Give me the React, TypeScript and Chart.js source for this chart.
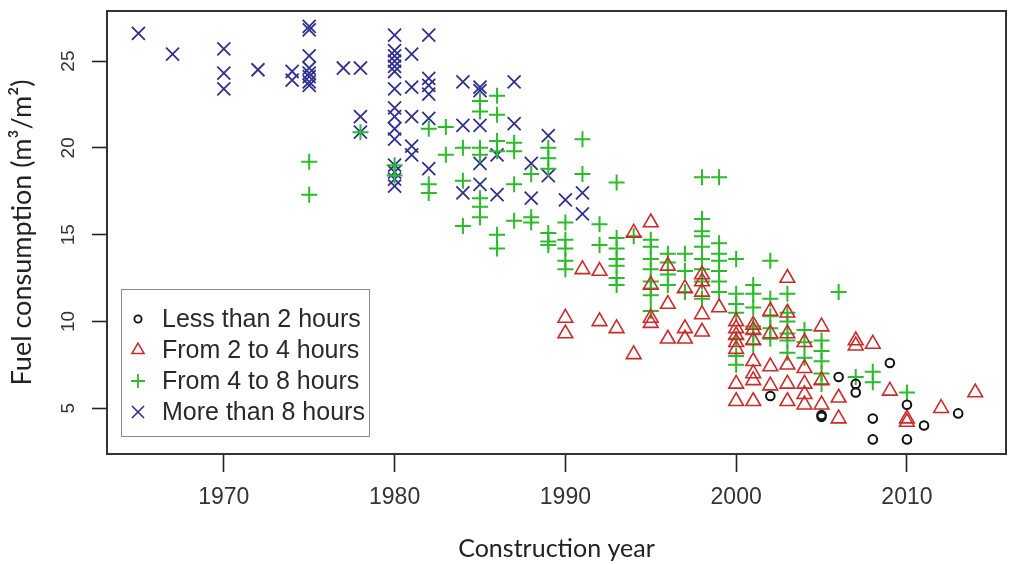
import React, { useEffect, useRef } from 'react';
import { Chart, registerables } from 'chart.js';

Chart.register(...registerables);

// Axis tick values
const xTickValues = [1970, 1980, 1990, 2000, 2010];
const yTickValues = [5, 10, 15, 20, 25];

// Fuel consumption (m³/m²) grouped by construction year, one list per heating-time class
type YearGroup = [number, number[]];

const lessThan2h: YearGroup[] = [
  [2002, [5.7]],
  [2005, [4.6, 4.5]],
  [2006, [6.8]],
  [2007, [6.4, 5.9]],
  [2008, [4.4, 3.2]],
  [2009, [7.6]],
  [2010, [5.2, 3.2]],
  [2011, [4.0]],
  [2013, [4.7]],
];

const from2to4h: YearGroup[] = [
  [1990, [10.2, 9.3]],
  [1991, [13.0]],
  [1992, [12.9, 10.0]],
  [1993, [9.6]],
  [1994, [15.1, 8.1]],
  [1995, [15.7, 12.1, 10.2, 9.9]],
  [1996, [13.2, 11.0, 9.0]],
  [1997, [11.9, 9.6, 9.0]],
  [1998, [12.7, 12.3, 11.7, 10.4, 9.4]],
  [1999, [10.8]],
  [2000, [10.0, 9.6, 9.2, 8.8, 8.4, 6.4, 5.4]],
  [2001, [9.8, 9.5, 8.9, 7.7, 7.0, 6.6, 5.4]],
  [2002, [10.6, 9.3, 7.4, 6.3]],
  [2003, [12.5, 10.5, 9.3, 7.5, 6.4, 5.4]],
  [2004, [8.8, 7.3, 6.4, 5.8, 5.2]],
  [2005, [9.7, 6.6, 5.2]],
  [2006, [5.6, 4.4]],
  [2007, [8.9, 8.6]],
  [2008, [8.7]],
  [2009, [6.0]],
  [2010, [4.4, 4.2]],
  [2012, [5.0]],
  [2014, [5.9]],
];

const from4to8h: YearGroup[] = [
  [1975, [19.2, 17.3]],
  [1978, [20.9]],
  [1980, [19.0, 18.4]],
  [1982, [21.1, 17.9, 17.4]],
  [1983, [21.2, 19.6]],
  [1984, [20.0, 18.1, 15.5]],
  [1985, [22.7, 22.1, 20.0, 19.6, 17.1, 16.6, 16.0]],
  [1986, [23.0, 21.9, 20.4, 19.8, 15.0, 14.2]],
  [1987, [20.3, 19.8, 17.9, 15.8]],
  [1988, [18.5, 16.0, 15.7]],
  [1989, [20.0, 19.4, 18.8, 15.1, 14.6, 14.4]],
  [1990, [15.7, 14.7, 14.2, 13.5, 13.0]],
  [1991, [20.5, 18.5]],
  [1992, [15.6, 14.4]],
  [1993, [18.0, 14.8, 14.2, 13.6, 13.2, 12.5, 12.1]],
  [1994, [14.9]],
  [1995, [14.7, 14.3, 13.6, 13.0, 12.3, 11.9, 11.5, 10.6]],
  [1996, [13.9, 13.4, 12.7, 12.1]],
  [1997, [13.9, 12.9, 11.7]],
  [1998, [18.3, 15.9, 15.2, 14.9, 14.3, 13.6, 13.0, 12.3, 11.3]],
  [1999, [18.3, 14.5, 13.9, 13.5, 12.9, 12.3, 11.7]],
  [2000, [13.6, 11.6, 11.0, 10.5, 9.0, 8.0, 7.5]],
  [2001, [12.1, 11.6, 10.8, 9.7, 9.3, 8.7]],
  [2002, [13.5, 11.3, 10.3, 9.6, 9.0]],
  [2003, [11.6, 10.5, 10.0, 9.3, 8.9, 8.2]],
  [2004, [9.5, 8.8, 7.9]],
  [2005, [8.9, 8.3, 7.7, 7.0, 6.4]],
  [2006, [11.7]],
  [2007, [6.8]],
  [2008, [7.1, 6.5]],
  [2010, [5.9]],
];

const moreThan8h: YearGroup[] = [
  [1965, [26.6]],
  [1967, [25.4]],
  [1970, [25.7, 24.3, 23.4]],
  [1972, [24.5]],
  [1974, [24.4, 23.9]],
  [1975, [27.0, 26.8, 25.3, 24.6, 24.3, 24.1, 23.8, 23.6]],
  [1977, [24.6]],
  [1978, [24.6, 21.8, 20.9]],
  [1980, [26.5, 25.6, 25.3, 25.0, 24.7, 24.4, 23.4, 22.3, 21.8, 21.1, 20.5, 19.0, 18.6, 18.2, 17.8]],
  [1981, [25.4, 23.5, 21.8, 20.1, 19.6]],
  [1982, [26.5, 24.0, 23.6, 23.1, 21.7, 18.8]],
  [1984, [23.8, 21.3, 17.4]],
  [1985, [23.5, 23.3, 21.3, 19.1, 17.9]],
  [1986, [19.6, 17.3]],
  [1987, [23.8, 21.4]],
  [1988, [19.1, 17.1]],
  [1989, [20.7, 18.4]],
  [1990, [17.0]],
  [1991, [17.4, 16.2]],
];

const seriesLabels = ['Less than 2 hours', 'From 2 to 4 hours', 'From 4 to 8 hours', 'More than 8 hours'];

const toPoints = (groups: YearGroup[]) =>
  groups.flatMap(([year, values]) => values.map((v) => ({ x: year, y: v })));

type MarkerStyle = 'circle' | 'triangle' | 'cross' | 'crossRot';

function drawMarker(
  ctx: CanvasRenderingContext2D,
  style: MarkerStyle,
  x: number,
  y: number,
  r: number,
  color: string,
  lineWidth: number
) {
  ctx.save();
  ctx.strokeStyle = color;
  ctx.lineWidth = lineWidth;
  ctx.beginPath();
  if (style === 'circle') {
    ctx.arc(x, y, r, 0, Math.PI * 2);
  } else if (style === 'triangle') {
    for (let k = 0; k < 3; k++) {
      const a = (k * 2 * Math.PI) / 3;
      const px = x + Math.sin(a) * r;
      const py = y - Math.cos(a) * r;
      if (k === 0) ctx.moveTo(px, py);
      else ctx.lineTo(px, py);
    }
    ctx.closePath();
  } else if (style === 'cross') {
    ctx.moveTo(x, y - r);
    ctx.lineTo(x, y + r);
    ctx.moveTo(x - r, y);
    ctx.lineTo(x + r, y);
  } else {
    const d = r * Math.SQRT1_2;
    ctx.moveTo(x - d, y - d);
    ctx.lineTo(x + d, y + d);
    ctx.moveTo(x + d, y - d);
    ctx.lineTo(x - d, y + d);
  }
  ctx.stroke();
  ctx.restore();
}

// Legend symbols (slightly smaller than the plotted marks)
const legendMarkers: { style: MarkerStyle; r: number; lw: number }[] = [
  { style: 'circle', r: 3.6, lw: 1.8 },
  { style: 'triangle', r: 7, lw: 1.5 },
  { style: 'cross', r: 7, lw: 1.8 },
  { style: 'crossRot', r: 8.5, lw: 1.6 },
];

const frameAndLegend = {
  id: 'frameAndLegend',
  afterDraw(chart: Chart) {
    const { ctx, chartArea } = chart;
    // plot frame
    ctx.save();
    ctx.strokeStyle = '#333';
    ctx.lineWidth = 2;
    ctx.strokeRect(
      chartArea.left,
      chartArea.top,
      chartArea.right - chartArea.left,
      chartArea.bottom - chartArea.top
    );
    ctx.restore();

    // legend box in the lower-left corner of the plot
    const boxLeft = chartArea.left + 14;
    const boxTop = chartArea.bottom - 165;
    const boxW = 248;
    const boxH = 147;
    ctx.save();
    ctx.fillStyle = '#fff';
    ctx.fillRect(boxLeft, boxTop, boxW, boxH);
    ctx.strokeStyle = '#8a8a8a';
    ctx.lineWidth = 1;
    ctx.strokeRect(boxLeft + 0.5, boxTop + 0.5, boxW, boxH);
    ctx.font = '25px "Liberation Sans", Arial, sans-serif';
    ctx.textBaseline = 'middle';
    ctx.textAlign = 'left';
    chart.data.datasets.forEach((ds: any, i: number) => {
      const rowY = boxTop + 30 + i * 31;
      const m = legendMarkers[i];
      drawMarker(ctx, m.style, boxLeft + 17, rowY, m.r, ds.borderColor as string, m.lw);
      ctx.fillStyle = '#2a2a2a';
      ctx.fillText(ds.label, boxLeft + 41, rowY + 1);
    });
    ctx.restore();
  },
};

export default function App() {
  const canvasRef = useRef<HTMLCanvasElement | null>(null);

  useEffect(() => {
    if (!canvasRef.current) return;
    const chart = new Chart(canvasRef.current, {
      type: 'scatter',
      data: {
        datasets: [
          {
            label: seriesLabels[0],
            data: toPoints(lessThan2h),
            pointStyle: 'circle',
            pointRadius: 4.3,
            borderColor: '#111111',
            backgroundColor: 'rgba(0,0,0,0)',
            pointBorderWidth: 2,
          },
          {
            label: seriesLabels[1],
            data: toPoints(from2to4h),
            pointStyle: 'triangle',
            pointRadius: 8.5,
            borderColor: '#cc2a2a',
            backgroundColor: 'rgba(0,0,0,0)',
            pointBorderWidth: 1.6,
          },
          {
            label: seriesLabels[2],
            data: toPoints(from4to8h),
            pointStyle: 'cross',
            pointRadius: 8,
            borderColor: '#2bbb2b',
            backgroundColor: 'rgba(0,0,0,0)',
            pointBorderWidth: 2,
          },
          {
            label: seriesLabels[3],
            data: toPoints(moreThan8h),
            pointStyle: 'crossRot',
            pointRadius: 9.2,
            borderColor: '#30308e',
            backgroundColor: 'rgba(0,0,0,0)',
            pointBorderWidth: 1.8,
          },
        ],
      },
      options: {
        animation: false,
        responsive: false,
        devicePixelRatio: 1,
        events: [],
        layout: { padding: { top: 9, right: 2, left: 0, bottom: 0 } },
        plugins: {
          legend: { display: false },
          tooltip: { enabled: false },
        },
        scales: {
          x: {
            type: 'linear',
            min: 1963.16,
            max: 2015.8,
            afterBuildTicks: (scale: any) => {
              scale.ticks = xTickValues.map((v) => ({ value: v }));
            },
            afterFit: (scale: any) => {
              scale.height = 110;
              scale.paddingLeft = 0;
              scale.paddingRight = 0;
            },
            border: { display: false },
            grid: {
              drawOnChartArea: false,
              drawTicks: true,
              tickLength: 18,
              tickWidth: 1.6,
              tickColor: '#222',
            },
            ticks: {
              autoSkip: false,
              maxRotation: 0,
              padding: 12,
              color: '#333',
              callback: (v: number) => String(v),
              font: { family: '"Liberation Sans", Arial, sans-serif', size: 23 },
            },
            title: {
              display: true,
              text: 'Construction year',
              color: '#222',
              font: { family: 'Lato, "Open Sans", sans-serif', size: 25 },
              padding: { top: 0, bottom: 0 },
            },
          },
          y: {
            type: 'linear',
            min: 2.36,
            max: 27.885,
            afterBuildTicks: (scale: any) => {
              scale.ticks = yTickValues.map((v) => ({ value: v }));
            },
            afterFit: (scale: any) => {
              scale.width = 107;
              scale.paddingTop = 0;
              scale.paddingBottom = 0;
            },
            border: { display: false },
            grid: {
              drawOnChartArea: false,
              drawTicks: true,
              tickLength: 15,
              tickWidth: 1.6,
              tickColor: '#222',
            },
            ticks: {
              autoSkip: false,
              minRotation: 90,
              maxRotation: 90,
              crossAlign: 'center',
              padding: 13,
              color: '#333',
              font: { family: '"Liberation Sans", Arial, sans-serif', size: 19 },
            },
            title: {
              display: true,
              text: 'Fuel consumption (m³/m²)',
              color: '#222',
              font: { family: 'Lato, "Open Sans", sans-serif', size: 27 },
              padding: { top: 6, bottom: 0 },
            },
          },
        },
      },
      plugins: [frameAndLegend],
    } as any);
    return () => chart.destroy();
  }, []);

  return (
    <div style={{ position: 'absolute', left: 0, top: 0, width: 1017, height: 564, background: '#fff' }}>
      <canvas ref={canvasRef} width={1017} height={564} />
    </div>
  );
}
